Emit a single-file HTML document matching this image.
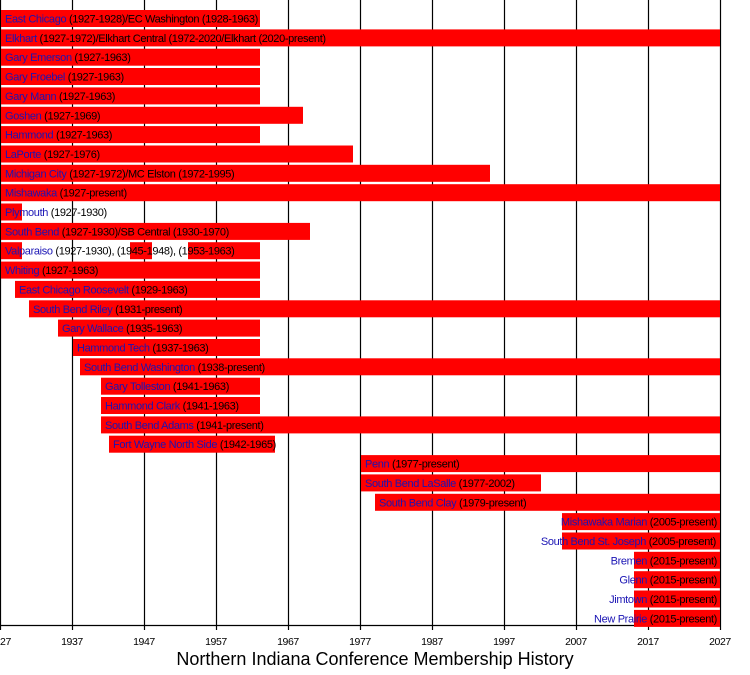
<!DOCTYPE html>
<html><head><meta charset="utf-8"><style>
html,body{margin:0;padding:0;background:#fff;}
svg{display:block;font-family:"Liberation Sans",sans-serif;}
.t{font-size:11px;letter-spacing:-0.35px;}
.n{fill:#1a14b4;}
</style></head><body>
<svg width="750" height="675" viewBox="0 0 750 675">
<g stroke="#000" stroke-width="1.2">
<line x1="0.5" y1="0" x2="0.5" y2="630"/>
<line x1="72.5" y1="0" x2="72.5" y2="630"/>
<line x1="144.5" y1="0" x2="144.5" y2="630"/>
<line x1="216.5" y1="0" x2="216.5" y2="630"/>
<line x1="288.5" y1="0" x2="288.5" y2="630"/>
<line x1="360.5" y1="0" x2="360.5" y2="630"/>
<line x1="432.5" y1="0" x2="432.5" y2="630"/>
<line x1="504.5" y1="0" x2="504.5" y2="630"/>
<line x1="576.5" y1="0" x2="576.5" y2="630"/>
<line x1="648.5" y1="0" x2="648.5" y2="630"/>
<line x1="720.5" y1="0" x2="720.5" y2="630"/>
<line x1="0" y1="625.5" x2="721" y2="625.5"/>
</g>
<g fill="#ff0000">
<rect x="1" y="10" width="259" height="17"/>
<rect x="1" y="29.4" width="719" height="17"/>
<rect x="1" y="48.7" width="259" height="17"/>
<rect x="1" y="68" width="259" height="17"/>
<rect x="1" y="87.4" width="259" height="17"/>
<rect x="1" y="106.8" width="302" height="17"/>
<rect x="1" y="126.1" width="259" height="17"/>
<rect x="1" y="145.5" width="352" height="17"/>
<rect x="1" y="164.8" width="489" height="17"/>
<rect x="1" y="184.2" width="719" height="17"/>
<rect x="1" y="203.5" width="21" height="17"/>
<rect x="1" y="222.9" width="309" height="17"/>
<rect x="1" y="242.2" width="21" height="17"/>
<rect x="130" y="242.2" width="22" height="17"/>
<rect x="188" y="242.2" width="72" height="17"/>
<rect x="1" y="261.6" width="259" height="17"/>
<rect x="15" y="280.9" width="245" height="17"/>
<rect x="29" y="300.3" width="691" height="17"/>
<rect x="58" y="319.6" width="202" height="17"/>
<rect x="73" y="339" width="187" height="17"/>
<rect x="80" y="358.3" width="640" height="17"/>
<rect x="101" y="377.7" width="159" height="17"/>
<rect x="101" y="397" width="159" height="17"/>
<rect x="101" y="416.4" width="619" height="17"/>
<rect x="109" y="435.7" width="166" height="17"/>
<rect x="361" y="455.1" width="359" height="17"/>
<rect x="361" y="474.4" width="180" height="17"/>
<rect x="375" y="493.8" width="345" height="17"/>
<rect x="562" y="513.1" width="158" height="17"/>
<rect x="562" y="532.5" width="158" height="17"/>
<rect x="634" y="551.8" width="86" height="17"/>
<rect x="634" y="571.2" width="86" height="17"/>
<rect x="634" y="590.5" width="86" height="17"/>
<rect x="634" y="609.9" width="86" height="17"/>
</g>
<g class="t">
<text x="5" y="22.5"><tspan class="n">East Chicago</tspan> (1927-1928)/EC Washington (1928-1963)</text>
<text x="5" y="41.9"><tspan class="n">Elkhart</tspan> (1927-1972)/Elkhart Central (1972-2020/Elkhart (2020-present)</text>
<text x="5" y="61.2"><tspan class="n">Gary Emerson</tspan> (1927-1963)</text>
<text x="5" y="80.5"><tspan class="n">Gary Froebel</tspan> (1927-1963)</text>
<text x="5" y="99.9"><tspan class="n">Gary Mann</tspan> (1927-1963)</text>
<text x="5" y="119.3"><tspan class="n">Goshen</tspan> (1927-1969)</text>
<text x="5" y="138.6"><tspan class="n">Hammond</tspan> (1927-1963)</text>
<text x="5" y="158"><tspan class="n">LaPorte</tspan> (1927-1976)</text>
<text x="5" y="177.3"><tspan class="n">Michigan City</tspan> (1927-1972)/MC Elston (1972-1995)</text>
<text x="5" y="196.7"><tspan class="n">Mishawaka</tspan> (1927-present)</text>
<text x="5" y="216"><tspan class="n">Plymouth</tspan> (1927-1930)</text>
<text x="5" y="235.4"><tspan class="n">South Bend</tspan> (1927-1930)/SB Central (1930-1970)</text>
<text x="5" y="254.7"><tspan class="n">Valparaiso</tspan> (1927-1930), (1945-1948), (1953-1963)</text>
<text x="5" y="274.1"><tspan class="n">Whiting</tspan> (1927-1963)</text>
<text x="19" y="293.4"><tspan class="n">East Chicago Roosevelt</tspan> (1929-1963)</text>
<text x="33" y="312.8"><tspan class="n">South Bend Riley</tspan> (1931-present)</text>
<text x="62" y="332.1"><tspan class="n">Gary Wallace</tspan> (1935-1963)</text>
<text x="77" y="351.5"><tspan class="n">Hammond Tech</tspan> (1937-1963)</text>
<text x="84" y="370.8"><tspan class="n">South Bend Washington</tspan> (1938-present)</text>
<text x="105" y="390.2"><tspan class="n">Gary Tolleston</tspan> (1941-1963)</text>
<text x="105" y="409.5"><tspan class="n">Hammond Clark</tspan> (1941-1963)</text>
<text x="105" y="428.9"><tspan class="n">South Bend Adams</tspan> (1941-present)</text>
<text x="113" y="448.2"><tspan class="n">Fort Wayne North Side</tspan> (1942-1965)</text>
<text x="365" y="467.6"><tspan class="n">Penn</tspan> (1977-present)</text>
<text x="365" y="486.9"><tspan class="n">South Bend LaSalle</tspan> (1977-2002)</text>
<text x="379" y="506.3"><tspan class="n">South Bend Clay</tspan> (1979-present)</text>
</g>
<g class="t" text-anchor="end">
<text x="717" y="525.6"><tspan class="n">Mishawaka Marian</tspan> (2005-present)</text>
<text x="716" y="545"><tspan class="n">South Bend St. Joseph</tspan> (2005-present)</text>
<text x="717" y="564.3"><tspan class="n">Bremen</tspan> (2015-present)</text>
<text x="717" y="583.7"><tspan class="n">Glenn</tspan> (2015-present)</text>
<text x="717" y="603"><tspan class="n">Jimtown</tspan> (2015-present)</text>
<text x="717" y="622.4"><tspan class="n">New Prairie</tspan> (2015-present)</text>
</g>
<g font-size="10.5" text-anchor="middle" letter-spacing="-0.4">
<text x="0" y="645">1927</text>
<text x="72" y="645">1937</text>
<text x="144" y="645">1947</text>
<text x="216" y="645">1957</text>
<text x="288" y="645">1967</text>
<text x="360" y="645">1977</text>
<text x="432" y="645">1987</text>
<text x="504" y="645">1997</text>
<text x="576" y="645">2007</text>
<text x="648" y="645">2017</text>
<text x="720" y="645">2027</text>
</g>
<text x="375" y="665" font-size="18" text-anchor="middle">Northern Indiana Conference Membership History</text>
</svg>
</body></html>
